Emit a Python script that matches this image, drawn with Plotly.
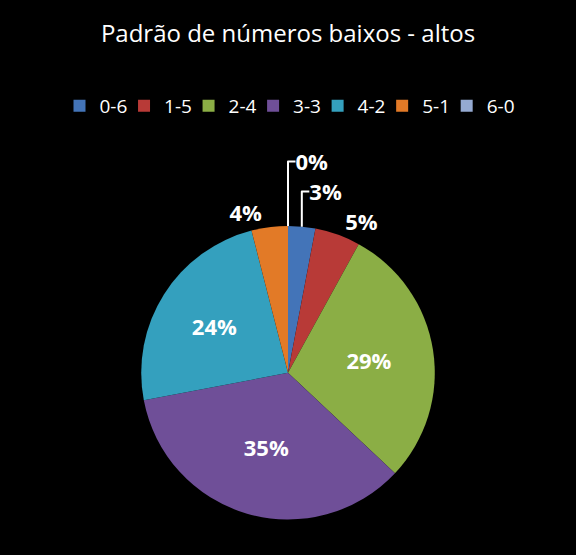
import plotly.graph_objects as go

padroes = ["0-6", "1-5", "2-4", "3-3", "4-2", "5-1", "6-0"]
percentuais = [3, 5, 29, 35, 24, 4, 0]
cores = ["#4374B8", "#B83A37", "#8BAE45", "#6F4F98", "#34A0BE", "#E27A27", "#95AAD2"]
posicoes = ["outside", "outside", "inside", "inside", "inside", "outside", "outside"]

fig = go.Figure(
    data=[
        go.Pie(labels=padroes,
               values=percentuais,
               sort=False,
               direction="clockwise",
               rotation=0,
               marker=dict(colors=cores, line=dict(color="#000000", width=0)),
               texttemplate="<b>%{percent:.0%}</b>",
               textposition=posicoes,
               insidetextorientation="horizontal",
               insidetextfont=dict(color="white", size=22, family="Open Sans"),
               outsidetextfont=dict(color="white", size=22, family="Open Sans"),
               domain=dict(x=[0.05, 0.95], y=[0.03, 0.6]),
               showlegend=True)
    ]
)

fig.update_layout(
    width=576, height=555,
    paper_bgcolor="black",
    plot_bgcolor="black",
    margin=dict(l=0, r=0, t=20, b=20),
    title=dict(text="Padrão de números baixos - altos",
               x=0.5, y=0.94, xanchor="center", yanchor="middle",
               font=dict(color="white", size=24, family="Open Sans")),
    legend=dict(orientation="h", x=0.5, xanchor="center", y=0.87, yanchor="top",
                font=dict(color="white", size=19, family="Open Sans"),
                itemwidth=30, entrywidth=0.135, entrywidthmode="fraction",
                traceorder="normal"),
)

fig.write_html("out.html", config={"displayModeBar": False},
               post_script="document.body.style.margin='0';")
